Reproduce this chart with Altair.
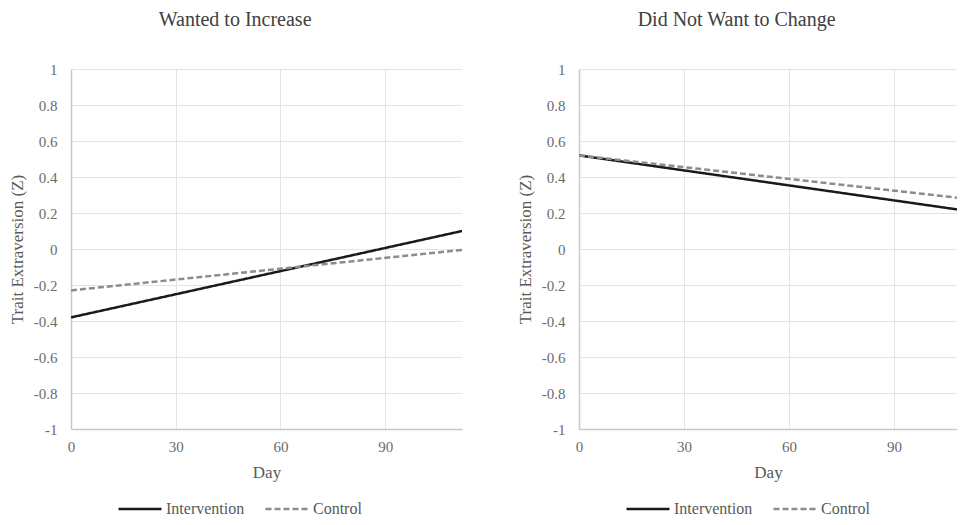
import altair as alt
import pandas as pd

FONT = "Liberation Serif"

series = ["Intervention", "Control"]
x_ticks = [0, 30, 60, 90]
y_ticks = [1, 0.8, 0.6, 0.4, 0.2, 0, -0.2, -0.4, -0.6, -0.8, -1]

# Panel 1: Wanted to Increase
days_increase = [0, 112]
intervention_increase = [-0.38, 0.10]
control_increase = [-0.23, -0.005]

# Panel 2: Did Not Want to Change (visible range ends at day 108)
days_nochange = [0, 108]
intervention_nochange = [0.52, 0.22]
control_nochange = [0.52, 0.285]


def panel(title, days, inter, ctrl, width, xmax):
    df = pd.DataFrame({
        "day": list(days) + list(days),
        "value": list(inter) + list(ctrl),
        "series": [series[0]] * len(days) + [series[1]] * len(days),
    })
    legend = alt.Legend(
        title=None, orient="none", legendX=61, legendY=432,
        direction="horizontal", symbolType="M-4.3,0H4.3", symbolSize=100,
        symbolStrokeWidth=2.5, symbolFillColor="transparent",
        labelFont=FONT, labelFontSize=16,
        labelColor="#595959", columnPadding=15, labelOffset=18, padding=0,
    )
    return alt.Chart(
        df,
        title=alt.Title(title, font=FONT, fontSize=20, fontWeight="normal",
                        color="#404040", anchor="middle", frame="bounds",
                        offset=32),
    ).mark_line(clip=True, strokeWidth=2.5).encode(
        x=alt.X("day:Q",
                scale=alt.Scale(domain=[0, xmax], nice=False, zero=False),
                axis=alt.Axis(values=x_ticks, title="Day", labelFlush=False,
                              labelFont=FONT, labelPadding=10, titlePadding=10)),
        y=alt.Y("value:Q",
                scale=alt.Scale(domain=[-1, 1], nice=False),
                axis=alt.Axis(values=y_ticks, labelExpr="'' + datum.value",
                              labelFont=FONT, title="Trait Extraversion (Z)",
                              labelPadding=14, titlePadding=7)),
        color=alt.Color("series:N", sort=series,
                        scale=alt.Scale(domain=series, range=["#1a1a1a", "#8c8c8c"]),
                        legend=legend),
        strokeDash=alt.StrokeDash("series:N", sort=series,
                                  scale=alt.Scale(domain=series, range=[[1, 0], [6, 3]]),
                                  legend=legend),
    ).properties(width=width, height=360)


left = panel("Wanted to Increase", days_increase, intervention_increase,
             control_increase, 391, 112)
right = panel("Did Not Want to Change", days_nochange, intervention_nochange,
              control_nochange, 378, 108)

chart = alt.hconcat(left, right, spacing=54).resolve_legend(
    color="independent", strokeDash="independent"
).properties(
    padding={"left": 0, "top": 2, "right": 0, "bottom": 0}
).configure_view(stroke=None).configure_axis(
    ticks=False, tickSize=0,
    domainColor="#c9c9c9", domainWidth=1.5,
    gridColor="#e4e4e4", gridWidth=1,
    labelFont=FONT, labelFontSize=15, labelColor="#6b6b6b",
    titleFont=FONT, titleFontSize=17, titleFontWeight="normal",
    titleColor="#595959",
).configure_legend(labelFont=FONT)

chart.save("out.html", embed_options={"renderer": "svg", "actions": False})
